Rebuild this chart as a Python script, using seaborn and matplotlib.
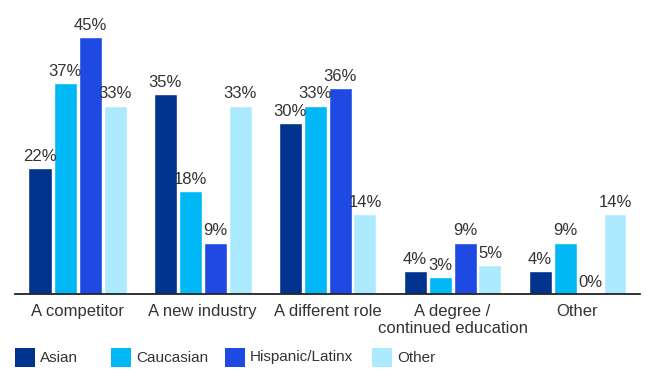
import pandas as pd
import matplotlib.pyplot as plt
import seaborn as sns
from matplotlib.patches import Rectangle

categories = ['A competitor', 'A new industry', 'A different role',
              'A degree /\ncontinued education', 'Other']
groups = ['Asian', 'Caucasian', 'Hispanic/Latinx', 'Other']
asian = [22, 35, 30, 4, 4]
caucasian = [37, 18, 33, 3, 9]
hispanic = [45, 9, 36, 9, 0]
other = [33, 33, 14, 5, 14]
colors = ['#00338D', '#00B8F5', '#1E49E2', '#ACEAFF']

rows = []
for g, vals in zip(groups, [asian, caucasian, hispanic, other]):
    for c, v in zip(categories, vals):
        rows.append({'category': c, 'group': g, 'value': v})
df = pd.DataFrame(rows)

sns.set_style('white')
plt.rcParams['font.family'] = ['Liberation Sans', 'DejaVu Sans']
text_color = '#333333'

W, H = 647, 369
fig = plt.figure(figsize=(W / 100, H / 100), dpi=100)
ax = fig.add_axes([15 / W, 75 / H, 625 / W, 294 / H])

sns.barplot(data=df, x='category', y='value', hue='group', palette=colors,
            width=0.8, gap=0.08, saturation=1, legend=False, ax=ax)

for cont in ax.containers:
    ax.bar_label(cont, fmt='%d%%', padding=3, fontsize=12, color=text_color)

ax.set_xlim(-0.5, 4.5)
ax.set_ylim(0, 51.5)
ax.set_xlabel('')
ax.set_ylabel('')
ax.set_yticks([])
for s in ['top', 'right', 'left']:
    ax.spines[s].set_visible(False)
ax.spines['bottom'].set_color('#222222')
ax.spines['bottom'].set_linewidth(1.3)

ax.set_xticks(range(len(categories)))
ax.set_xticklabels(categories, fontsize=12, color=text_color, linespacing=1.15)
ax.tick_params(axis='x', which='major', length=0, pad=7)
ax.set_xticks([i - 0.5 for i in range(len(categories) + 1)], minor=True)
ax.tick_params(axis='x', which='minor', direction='in', length=7,
               width=1.3, color='#222222')

# legend drawn by hand so the spacing matches the original
legend_x = [15, 111, 225, 372]
for x, g, c in zip(legend_x, groups, colors):
    fig.add_artist(Rectangle((x / W, 1 - 367 / H), 20 / W, 19 / H,
                             facecolor=c, edgecolor='none',
                             transform=fig.transFigure))
    fig.text((x + 25) / W, 1 - 357.5 / H, g, fontsize=11, color=text_color,
             va='center', ha='left')

fig.savefig('out.png', dpi=100)
